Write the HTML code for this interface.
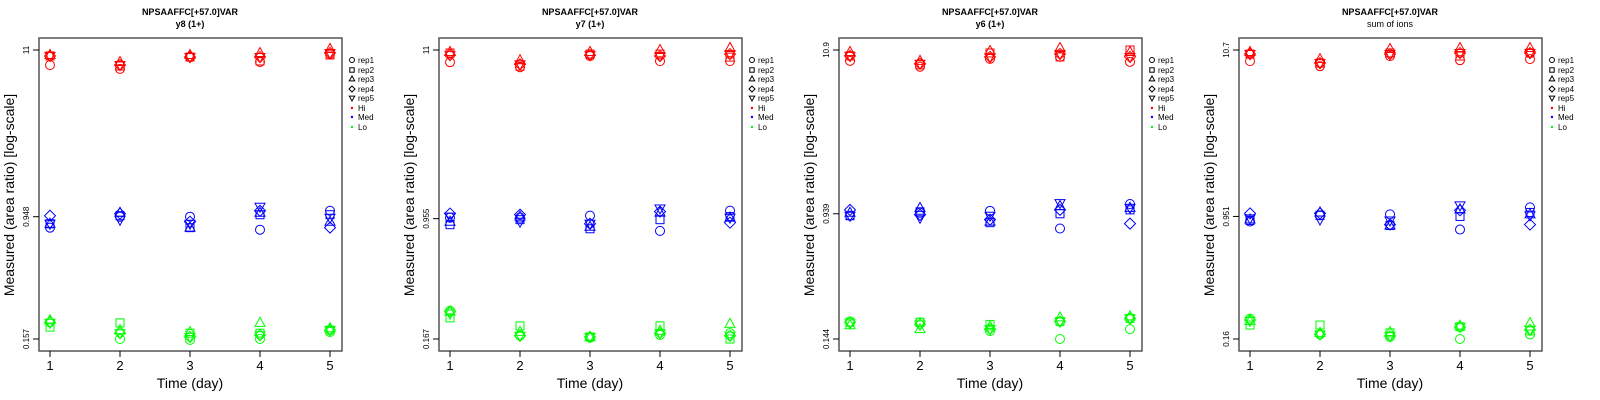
<!DOCTYPE html>
<html><head><meta charset="utf-8"><style>
body{margin:0;background:#fff;width:1600px;height:400px;overflow:hidden}
svg{display:block;font-family:"Liberation Sans",sans-serif}
</style></head><body>
<svg id="chart" width="1600" height="400" viewBox="0 0 1600 400"></svg>
<script>
const days = [1,2,3,4,5];
const reps = ["rep1","rep2","rep3","rep4","rep5"];
const levels = ["Hi","Med","Lo"];
const levelColors = ["#ff0000","#0000ff","#00ff00"];
const panelSubtitles = ["y8 (1+)","y7 (1+)","y6 (1+)","sum of ions"];
const tickLabels = [["11","0.948","0.157"],["11","0.955","0.167"],["10.9","0.939","0.144"],["10.7","0.951","0.16"]];
const tickValues = [[11,0.948,0.157],[11,0.955,0.167],[10.9,0.939,0.144],[10.7,0.951,0.16]];
// values: [day][rep]
const p1Hi = [[8.82,10.08,10.22,10.08,10.08],[8.33,8.70,9.22,8.82,8.82],[9.92,9.92,10.22,9.92,9.92],[9.22,9.36,10.53,9.92,9.92],[10.37,10.22,11.17,10.53,10.53]];
const p1Med = [[0.807,0.855,0.855,0.962,0.855],[0.948,0.962,1.005,0.991,0.907],[0.948,0.807,0.807,0.881,0.855],[0.783,0.976,1.005,1.035,1.098],[1.035,0.976,0.881,0.807,0.934]];
const p1Lo = [[0.201,0.187,0.207,0.201,0.199],[0.157,0.199,0.179,0.171,0.171],[0.155,0.171,0.174,0.162,0.162],[0.157,0.171,0.199,0.166,0.166],[0.174,0.179,0.184,0.179,0.179]];
const p2Hi = [[9.22,10.53,10.68,10.22,10.22],[8.57,8.70,9.49,8.95,8.95],[10.08,10.37,10.68,10.22,10.22],[9.36,10.37,11.0,10.08,10.08],[9.36,9.92,11.33,10.37,10.37]];
const p2Med = [[0.969,0.875,0.914,1.028,0.984],[0.969,0.941,0.984,1.012,0.914],[0.998,0.825,0.849,0.887,0.887],[0.800,0.941,1.043,1.058,1.106],[1.073,0.984,0.969,0.901,0.969]];
const p2Lo = [[0.252,0.227,0.248,0.248,0.241],[0.175,0.202,0.185,0.175,0.175],[0.170,0.172,0.172,0.172,0.172],[0.177,0.202,0.188,0.182,0.182],[0.182,0.167,0.208,0.175,0.175]];
const p3Hi = [[9.27,9.98,10.58,9.98,9.98],[8.49,8.74,9.27,8.87,8.87],[9.55,10.43,10.74,9.83,9.83],[9.83,9.83,11.23,10.28,10.28],[9.13,10.9,10.58,9.83,9.83]];
const p3Med = [[0.912,0.912,0.953,0.995,0.912],[0.953,0.967,1.025,0.925,0.885],[0.981,0.822,0.835,0.860,0.912],[0.753,0.939,1.055,0.995,1.102],[1.087,0.995,1.025,0.810,1.025]];
const p3Lo = [[0.187,0.185,0.177,0.185,0.182],[0.185,0.185,0.167,0.179,0.179],[0.162,0.179,0.174,0.167,0.167],[0.144,0.187,0.199,0.187,0.187],[0.167,0.196,0.202,0.196,0.196]];
const p4Hi = [[9.10,10.09,10.39,10.09,10.09],[8.46,8.84,9.37,8.84,8.84],[9.80,10.24,10.86,10.09,10.09],[9.23,9.80,11.02,10.24,10.24],[9.37,10.24,11.02,10.24,10.24]];
const p4Med = [[0.883,0.897,0.910,0.994,0.924],[0.966,0.966,1.008,0.994,0.910],[0.980,0.833,0.833,0.845,0.897],[0.786,0.951,1.054,1.039,1.117],[1.085,1.008,0.980,0.845,0.966]];
const p4Lo = [[0.215,0.196,0.208,0.211,0.208],[0.171,0.196,0.175,0.171,0.171],[0.165,0.175,0.177,0.167,0.167],[0.160,0.191,0.194,0.191,0.191],[0.171,0.180,0.202,0.183,0.183]];
const panelData = [[p1Hi,p1Med,p1Lo],[p2Hi,p2Med,p2Lo],[p3Hi,p3Med,p3Lo],[p4Hi,p4Med,p4Lo]];

const NS="http://www.w3.org/2000/svg";
const svg=document.getElementById('chart');
function mk(tag,attrs,parent){const e=document.createElementNS(NS,tag);for(const k in attrs)e.setAttribute(k,attrs[k]);(parent||svg).appendChild(e);return e;}
function marker(g,shape,cx,cy,col,s){
  let e;
  if(shape===0){e=mk('circle',{cx:cx,cy:cy,r:4.5*s,fill:'none',stroke:col,'stroke-width':1},g);}
  else if(shape===1){e=mk('rect',{x:cx-4*s,y:cy-4*s,width:8*s,height:8*s,fill:'none',stroke:col,'stroke-width':1},g);}
  else if(shape===2){e=mk('polygon',{points:`${cx},${cy-5.5*s} ${cx-5*s},${cy+3.5*s} ${cx+5*s},${cy+3.5*s}`,fill:'none',stroke:col,'stroke-width':1},g);}
  else if(shape===3){e=mk('polygon',{points:`${cx},${cy-5.5*s} ${cx+5.5*s},${cy} ${cx},${cy+5.5*s} ${cx-5.5*s},${cy}`,fill:'none',stroke:col,'stroke-width':1},g);}
  else {e=mk('polygon',{points:`${cx},${cy+5.5*s} ${cx-5*s},${cy-3.5*s} ${cx+5*s},${cy-3.5*s}`,fill:'none',stroke:col,'stroke-width':1},g);}
  return e;
}
for(let p=0;p<4;p++){
  const ox=p*400;
  const g=mk('g',{transform:`translate(${ox},0)`});
  
  
  const tv=tickValues[p];
  const lt=Math.log10(tv[0]), lb=Math.log10(tv[2]);
  const yScale=v=>50+(lt-Math.log10(v))/(lt-lb)*289;
  const xScale=d=>50+(d-1)*70;
  let t=mk('text',{x:190,y:15,'text-anchor':'middle','font-size':9,'font-weight':'bold'},g);t.textContent='NPSAAFFC[+57.0]VAR';
  
  t=mk('text',{x:190,y:27,'text-anchor':'middle','font-size':9,'font-weight':p<3?'bold':'normal'},g);t.textContent=panelSubtitles[p];
  
  const box=mk('rect',{x:39,y:38,width:303,height:313,fill:'none',stroke:'#555','stroke-width':1.5},g);
  
  days.forEach(d=>{
    const x=xScale(d);
    mk('line',{x1:x,y1:351,x2:x,y2:357,stroke:'#000','stroke-width':1},g);
    const tl=mk('text',{x:x,y:370,'text-anchor':'middle','font-size':13},g);tl.textContent=d;
    
  });
  tv.forEach((v,i)=>{
    const y=yScale(v);
    mk('line',{x1:33,y1:y,x2:39,y2:y,stroke:'#000','stroke-width':1},g);
    const tl=mk('text',{x:0,y:0,'text-anchor':'middle','font-size':8,transform:`translate(29,${y}) rotate(-90)`},g);tl.textContent=tickLabels[p][i];
    
  });
  t=mk('text',{x:190,y:388,'text-anchor':'middle','font-size':14},g);t.textContent='Time (day)';
  
  t=mk('text',{x:0,y:0,'text-anchor':'middle','font-size':14,transform:'translate(14,195) rotate(-90)'},g);t.textContent='Measured (area ratio) [log-scale]';
  
  const pts=mk('g',{},g);
  
  panelData[p].forEach((lev,li)=>{
    lev.forEach((dayVals,di)=>{
      dayVals.forEach((v,ri)=>{
        const m=marker(pts,ri,xScale(days[di]),yScale(v),levelColors[li],1);
        
        
      });
    });
  });
  const lg=mk('g',{},g);
  
  const rowsY=[60,70,79,89,98,108,117,127];
  reps.forEach((r,i)=>{
    marker(lg,i,352,rowsY[i],'#000',0.55);
    const lt2=mk('text',{x:358,y:rowsY[i]+3,'font-size':8},lg);lt2.textContent=r;
    
  });
  levels.forEach((l,i)=>{
    const y=rowsY[5+i];
    mk('circle',{cx:352,cy:y,r:1.2,fill:levelColors[i]},lg);
    const lt2=mk('text',{x:358,y:y+3,'font-size':8},lg);lt2.textContent=l;
    
  });
}
</script>
</body></html>
